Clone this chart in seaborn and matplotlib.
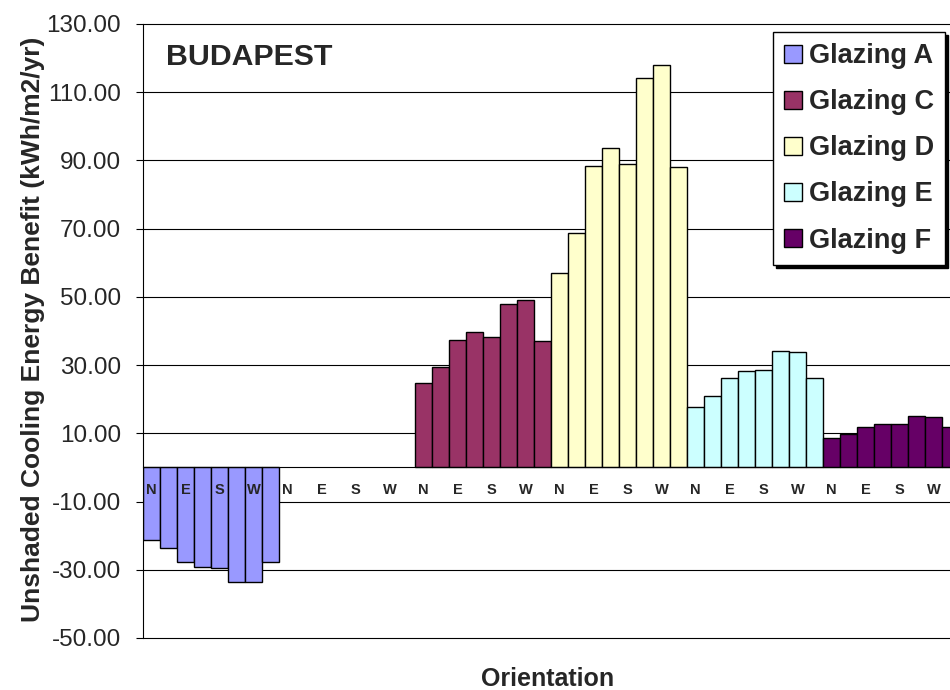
import numpy as np
import pandas as pd
import seaborn as sns
import matplotlib.pyplot as plt
from matplotlib.ticker import FormatStrFormatter

orientations = ['N', 'NE', 'E', 'SE', 'S', 'SW', 'W', 'NW']
glazings = ['Glazing A', 'Glazing B', 'Glazing C', 'Glazing D', 'Glazing E', 'Glazing F']

# values (kWh/m2/yr), one per orientation
glazing_a = [-21.2, -23.5, -27.6, -29.1, -29.5, -33.7, -33.7, -27.7]
glazing_b = [np.nan, np.nan, np.nan, np.nan, np.nan, np.nan, np.nan, np.nan]  # no bars for B
glazing_c = [24.9, 29.5, 37.4, 39.7, 38.1, 48.0, 49.0, 37.2]
glazing_d = [56.9, 68.6, 88.3, 93.6, 89.0, 114.3, 118.1, 88.0]
glazing_e = [17.7, 20.8, 26.1, 28.3, 28.5, 34.2, 33.8, 26.2]
glazing_f = [8.6, 9.8, 11.9, 12.8, 12.6, 15.1, 14.8, 11.9]

colors = {'Glazing A': '#9999FF', 'Glazing B': '#FFFFFF', 'Glazing C': '#993366',
          'Glazing D': '#FFFFCC', 'Glazing E': '#CCFFFF', 'Glazing F': '#660066'}
shown = ['Glazing A', 'Glazing C', 'Glazing D', 'Glazing E', 'Glazing F']

series = [glazing_a, glazing_b, glazing_c, glazing_d, glazing_e, glazing_f]
rows = []
for gi, (g, vals) in enumerate(zip(glazings, series)):
    for oi, (o, v) in enumerate(zip(orientations, vals)):
        rows.append({'slot': gi * 8 + oi, 'glazing': g, 'orientation': o, 'value': v})
df = pd.DataFrame(rows)
n_slots = len(df)
bars_df = df.dropna()

sns.set_style('white')
plt.rcParams['font.family'] = ['Liberation Sans', 'DejaVu Sans']

fig = plt.figure(figsize=(9.5, 6.9), dpi=100)
ax = fig.add_axes([143 / 950, 1 - 638 / 690, 816 / 950, 614 / 690])

sns.barplot(data=bars_df, x='slot', y='value', hue='glazing', order=list(range(n_slots)),
            hue_order=shown, palette=colors, dodge=False, width=1.0, saturation=1,
            edgecolor='black', linewidth=1.0, ax=ax)

ax.set_xlim(-0.5, n_slots - 0.5)
ax.set_ylim(-50, 130)
ax.set_yticks(np.arange(-50, 131, 20))
ax.yaxis.set_major_formatter(FormatStrFormatter('%.2f'))
ax.set_axisbelow(True)
ax.yaxis.grid(True, color='black', linewidth=0.8)
ax.xaxis.grid(False)
for gl in ax.get_ygridlines():
    gl.set_clip_on(False)

# category axis sits on the zero line, its labels drawn over the bars
ax.spines['bottom'].set_position(('data', 0))
ax.spines['bottom'].set_color('black')
ax.spines['left'].set_color('black')
ax.spines['top'].set_visible(False)
ax.spines['right'].set_visible(False)
ax.xaxis.set_zorder(5)

lab_pos = df.index[df['orientation'].isin(['N', 'E', 'S', 'W'])]
ax.set_xticks(df.loc[lab_pos, 'slot'])
ax.set_xticklabels(df.loc[lab_pos, 'orientation'], fontsize=10.5, fontweight='bold')
ax.set_xticks(np.arange(-0.5, n_slots, 1), minor=True)
ax.tick_params(axis='x', which='major', length=0, pad=11)
ax.tick_params(axis='x', which='minor', length=4, color='#555555', direction='out')
ax.tick_params(axis='y', length=5, color='black', pad=11, labelsize=17.5, left=True)
ax.set_xlabel('')
ax.set_ylabel('')

handles, labels = ax.get_legend_handles_labels()
leg = ax.legend(handles, labels, loc='upper right', bbox_to_anchor=(0.983, 0.987),
                frameon=True, fancybox=False, shadow={'color': 'black', 'alpha': 1},
                edgecolor='black', framealpha=1, prop={'weight': 'bold', 'size': 19.5},
                handlelength=0.65, handleheight=0.65, handletextpad=0.25,
                labelspacing=0.74, borderpad=0.42, borderaxespad=0)
leg.get_frame().set_linewidth(1.0)

fig.text(166 / 950, 1 - 57 / 690, 'BUDAPEST', fontsize=21.8, fontweight='bold',
         ha='left', va='center')
fig.text(548 / 950, 1 - 686 / 690, 'Orientation', fontsize=18, fontweight='bold',
         ha='center', va='baseline')
fig.text(33 / 950, 1 - 329 / 690, 'Unshaded Cooling Energy Benefit (kWh/m2/yr)',
         fontsize=19, fontweight='bold', rotation=90, ha='center', va='center')

fig.savefig('out.png', dpi=100)
